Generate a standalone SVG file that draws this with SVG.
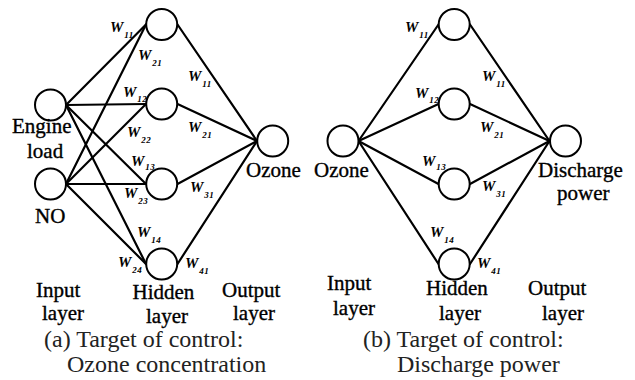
<svg xmlns="http://www.w3.org/2000/svg" width="635" height="380" viewBox="0 0 635 380" font-family="'Liberation Serif', 'Times New Roman', Times, serif">
<style>
.n{fill:#fff;stroke:#000;stroke-width:2}
.c line{stroke:#000;stroke-width:2.2;stroke-linecap:round}
.t{font-family:'Liberation Serif','Times New Roman',Times,serif;font-size:21px;fill:#000;stroke:#000;stroke-width:0.35}
.cap{font-family:'Liberation Serif','Times New Roman',Times,serif;font-size:24px;fill:#222}
.w{font-family:'Liberation Serif','Times New Roman',Times,serif;font-size:15px;font-weight:bold;font-style:italic;fill:#000}
.s{font-size:9px;letter-spacing:0.5px}
</style>
<rect width="635" height="380" fill="#fff"/>
<g id="connectors-a" class="c">
<line x1="66" y1="105" x2="146" y2="24.5"/>
<line x1="66" y1="105" x2="146" y2="104"/>
<line x1="66" y1="105" x2="146" y2="184"/>
<line x1="66" y1="105" x2="146" y2="264"/>
<line x1="66" y1="184" x2="146" y2="24.5"/>
<line x1="66" y1="184" x2="146" y2="104"/>
<line x1="66" y1="184" x2="146" y2="184"/>
<line x1="66" y1="184" x2="146" y2="264"/>
<line x1="177.5" y1="24.5" x2="257" y2="141"/>
<line x1="177.5" y1="104" x2="257" y2="141"/>
<line x1="177.5" y1="184" x2="257" y2="141"/>
<line x1="177.5" y1="264" x2="257" y2="141"/>
</g>
<g id="connectors-b" class="c">
<line x1="358.5" y1="141" x2="438.5" y2="24.5"/>
<line x1="358.5" y1="141" x2="438.5" y2="104"/>
<line x1="358.5" y1="141" x2="438.5" y2="184"/>
<line x1="358.5" y1="141" x2="438.5" y2="264"/>
<line x1="470" y1="24.5" x2="549.5" y2="141"/>
<line x1="470" y1="104" x2="549.5" y2="141"/>
<line x1="470" y1="184" x2="549.5" y2="141"/>
<line x1="470" y1="264" x2="549.5" y2="141"/>
</g>
<g id="a-in-engine"><circle class="n" cx="50.5" cy="105" r="15.5"/><text class="t" x="12" y="133">Engine</text><text class="t" x="27" y="158">load</text></g>
<g id="a-in-no"><circle class="n" cx="50.5" cy="184" r="15.5"/><text class="t" x="35" y="223">NO</text></g>
<g id="a-h1"><circle class="n" cx="161.7" cy="24.5" r="15.5"/></g>
<g id="a-h2"><circle class="n" cx="161.7" cy="104" r="15.5"/></g>
<g id="a-h3"><circle class="n" cx="161.7" cy="184" r="15.5"/></g>
<g id="a-h4"><circle class="n" cx="161.7" cy="264" r="15.5"/></g>
<g id="a-out"><circle class="n" cx="272.7" cy="141" r="15.5"/><text class="t" x="246" y="177">Ozone</text></g>
<g id="b-in"><circle class="n" cx="343" cy="141" r="15.5"/><text class="t" x="314" y="177">Ozone</text></g>
<g id="b-h1"><circle class="n" cx="454.2" cy="24.5" r="15.5"/></g>
<g id="b-h2"><circle class="n" cx="454.2" cy="104" r="15.5"/></g>
<g id="b-h3"><circle class="n" cx="454.2" cy="184" r="15.5"/></g>
<g id="b-h4"><circle class="n" cx="454.2" cy="264" r="15.5"/></g>
<g id="b-out"><circle class="n" cx="565.5" cy="141" r="15.5"/><text class="t" x="538" y="177">Discharge</text><text class="t" x="557" y="200">power</text></g>
<g id="weights-a" class="w">
<text x="110" y="31.7">W<tspan class="s" dx="1" dy="6">11</tspan></text>
<text x="138" y="60">W<tspan class="s" dx="1" dy="6">21</tspan></text>
<text x="188" y="81">W<tspan class="s" dx="1" dy="6">11</tspan></text>
<text x="123" y="96.5">W<tspan class="s" dx="1" dy="5">12</tspan></text>
<text x="127" y="137">W<tspan class="s" dx="1" dy="6">22</tspan></text>
<text x="188" y="131.5">W<tspan class="s" dx="1" dy="6">21</tspan></text>
<text x="131" y="165.7">W<tspan class="s" dx="1" dy="4">13</tspan></text>
<text x="190" y="192">W<tspan class="s" dx="1" dy="6">31</tspan></text>
<text x="124" y="198">W<tspan class="s" dx="1" dy="6">23</tspan></text>
<text x="137" y="236.7">W<tspan class="s" dx="1" dy="6">14</tspan></text>
<text x="118" y="267">W<tspan class="s" dx="1" dy="6">24</tspan></text>
<text x="185" y="268">W<tspan class="s" dx="1" dy="6">41</tspan></text>
</g>
<g id="weights-b" class="w">
<text x="405" y="31.5">W<tspan class="s" dx="1" dy="6">11</tspan></text>
<text x="482" y="80.5">W<tspan class="s" dx="1" dy="6">11</tspan></text>
<text x="415" y="98">W<tspan class="s" dx="1" dy="5">12</tspan></text>
<text x="480" y="131.5">W<tspan class="s" dx="1" dy="6">21</tspan></text>
<text x="422" y="166">W<tspan class="s" dx="1" dy="4">13</tspan></text>
<text x="482" y="191">W<tspan class="s" dx="1" dy="6">31</tspan></text>
<text x="430" y="236.7">W<tspan class="s" dx="1" dy="6">14</tspan></text>
<text x="477" y="268">W<tspan class="s" dx="1" dy="6">41</tspan></text>
</g>
<g id="labels-a">
<text class="t" x="36" y="297">Input</text><text class="t" x="42" y="320">layer</text>
<text class="t" x="132.5" y="298.5">Hidden</text><text class="t" x="146" y="322.5">layer</text>
<text class="t" x="222" y="297">Output</text><text class="t" x="233" y="320">layer</text>
<text class="cap" x="44" y="347">(a) Target of control:</text>
<text class="cap" x="67" y="371.5">Ozone concentration</text>
</g>
<g id="labels-b">
<text class="t" x="327" y="290">Input</text><text class="t" x="333" y="315">layer</text>
<text class="t" x="426" y="295">Hidden</text><text class="t" x="439" y="320">layer</text>
<text class="t" x="528" y="295">Output</text><text class="t" x="542" y="320">layer</text>
<text class="cap" x="363" y="347">(b) Target of control:</text>
<text class="cap" x="397" y="371.5">Discharge power</text>
</g>
</svg>
